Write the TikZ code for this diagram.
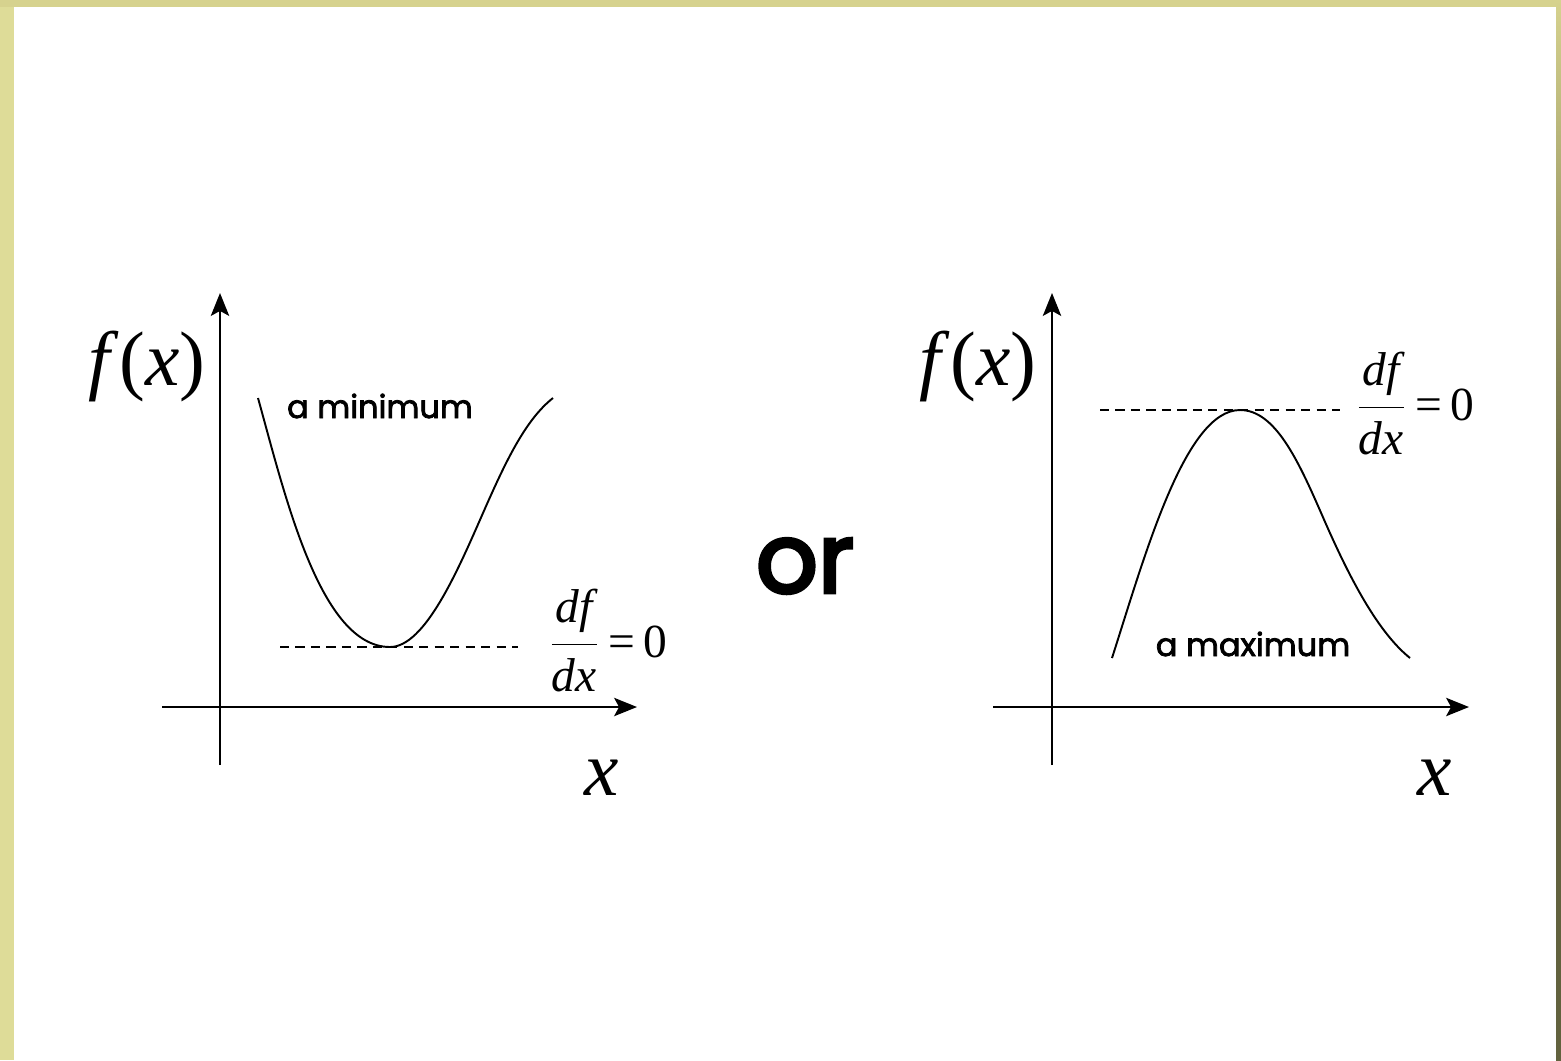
\documentclass[tikz,border=0pt]{standalone}
\usepackage{fontspec}
\setmainfont{Liberation Serif}
\newfontfamily\comicfont{Poppins}[FakeBold=2.4]
\newfontfamily\comicbig{Poppins}[FakeBold=3.8]
\usetikzlibrary{arrows.meta}
\definecolor{framebg}{RGB}{222,220,152}
\definecolor{frametop}{RGB}{214,210,142}
\definecolor{framedark}{RGB}{98,98,62}
\begin{document}
\begin{tikzpicture}[x=0.01cm,y=-0.01cm,
  axisline/.style={line width=0.65pt,-{Stealth[length=6.5pt,width=5.2pt,inset=1.4pt]}},
  curveline/.style={line width=0.55pt},
  guide/.style={line width=0.45pt,dash pattern=on 2.6pt off 1.8pt},
  bigmath/.style={font=\fontsize{22}{26}\selectfont, inner sep=0pt},
  note/.style={font=\comicfont\fontsize{9.1}{11}\selectfont, inner sep=0pt},
  bigword/.style={font=\comicbig\fontsize{27.5}{32}\selectfont, inner sep=0pt},
  fraclabel/.style={font=\fontsize{13.5}{16}\selectfont, inner sep=0pt, anchor=west}]
\useasboundingbox (0,0) rectangle (1561,1060);
% frame
\fill[framebg] (0,0) rectangle (1561,1060);
\fill[frametop] (0,0) rectangle (1561,7);
\shade[top color=frametop, bottom color=framedark, middle color=framedark] (1556,0) rectangle (1561,1060);
\fill[white] (14,7) rectangle (1556,1060);

% ---------- left graph ----------
\coordinate (yb1) at (220,765);
\coordinate (yt1) at (220,293);
\coordinate (xl1) at (162,707);
\coordinate (xr1) at (637,707);
\draw[axisline] (yb1) -- (yt1);
\draw[axisline] (xl1) -- (xr1);
\node[bigmath] (fx1) at (147,366) {\textit{f}(\textit{x})};
\node[bigmath] (xlab1) at (602,778) {\textit{x}};
\coordinate (c1s) at (258,398);
\coordinate (c1m) at (390,647);
\coordinate (c1i) at (483,513);
\coordinate (c1e) at (553,398);
\draw[curveline] (c1s) .. controls (285,495) and (320,647) .. (c1m)
  .. controls (425,647) and (458,570) .. (c1i)
  .. controls (505,463) and (525,420) .. (c1e);
\coordinate (dl1) at (280,647);
\coordinate (dr1) at (518,647);
\draw[guide] (dl1) -- (dr1);
\node[note] (minlabel) at (380,406) {a minimum};
\node[fraclabel] (deriv1) at (547,641) {$\displaystyle\frac{\textit{df}}{\textit{dx}}$\,=\,0};

% ---------- or ----------
\node[bigword] (orword) at (805,566) {or};

% ---------- right graph ----------
\coordinate (yb2) at (1052,765);
\coordinate (yt2) at (1052,293);
\coordinate (xl2) at (993,707);
\coordinate (xr2) at (1469,707);
\draw[axisline] (yb2) -- (yt2);
\draw[axisline] (xl2) -- (xr2);
\node[bigmath] (fx2) at (978,366) {\textit{f}(\textit{x})};
\node[bigmath] (xlab2) at (1435,778) {\textit{x}};
\coordinate (c2s) at (1112,658);
\coordinate (c2m) at (1240,410);
\coordinate (c2i) at (1322,515);
\coordinate (c2e) at (1410,658);
\draw[curveline] (c2s) .. controls (1145,555) and (1185,410) .. (c2m)
  .. controls (1275,410) and (1298,460) .. (c2i)
  .. controls (1345,568) and (1375,630) .. (c2e);
\coordinate (dl2) at (1100,410);
\coordinate (dr2) at (1340,410);
\draw[guide] (dl2) -- (dr2);
\node[note] (maxlabel) at (1253,644) {a maximum};
\node[fraclabel] (deriv2) at (1354,404) {$\displaystyle\frac{\textit{df}}{\textit{dx}}$\,=\,0};
\end{tikzpicture}
\end{document}
